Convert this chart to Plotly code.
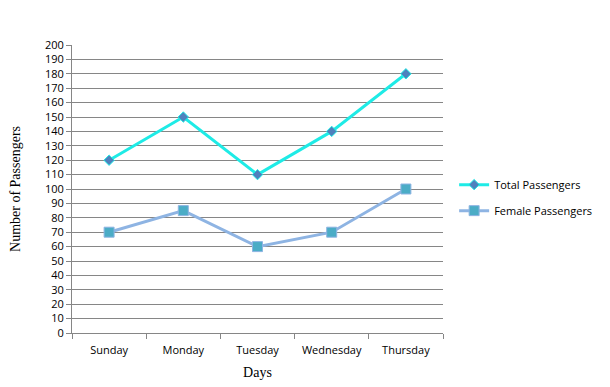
import plotly.graph_objects as go

days = ["Sunday", "Monday", "Tuesday", "Wednesday", "Thursday"]
total_passengers = [120, 150, 110, 140, 180]
female_passengers = [70, 85, 60, 70, 100]
y_ticks = list(range(0, 201, 10))

fig = go.Figure()
fig.add_trace(go.Scatter(
    x=days, y=total_passengers, name="Total Passengers", mode="lines+markers",
    legendgroup="t",
    line=dict(color="#1EEBE6", width=3),
    marker=dict(symbol="diamond", size=8, color="#4F81BD", line=dict(color="#1EEBE6", width=1)),
))
fig.add_trace(go.Scatter(
    x=days, y=female_passengers, name="Female Passengers", mode="lines+markers",
    legendgroup="f",
    line=dict(color="#8EB4E3", width=3),
    marker=dict(symbol="square", size=10, color="#4BACC6", line=dict(color="#8EB4E3", width=1)),
))

fig.update_layout(
    width=602, height=379,
    margin=dict(l=64, r=167, t=37, b=54, autoexpand=False),
    paper_bgcolor="white", plot_bgcolor="white",
    font=dict(family="Open Sans, Tahoma, sans-serif", size=11, color="black"),
    showlegend=True,
    legend=dict(x=1.03, y=0.47, xanchor="left", yanchor="middle",
                font=dict(size=11), tracegroupgap=7, itemwidth=30),
)
fig.update_xaxes(
    type="category", range=[-0.5, 4.5], tickangle=0, automargin=False,
    showline=True, linecolor="#868686", linewidth=1,
    ticks="outside", tickson="boundaries", ticklen=5, tickcolor="#868686",
    ticklabelstandoff=7,
    showgrid=False,
    title=dict(text="Days", font=dict(family="Liberation Serif, Times New Roman, serif", size=14), standoff=10),
)
fig.update_yaxes(
    range=[0, 200], tickvals=y_ticks, automargin=False,
    showline=True, linecolor="#868686", linewidth=1,
    ticks="outside", ticklen=5, tickcolor="#868686",
    showgrid=True, gridcolor="#868686", gridwidth=1,
    zeroline=False,
    title=dict(text="Number of Passengers", font=dict(family="Liberation Serif, Times New Roman, serif", size=14), standoff=22),
)
fig.write_html("out.html")
